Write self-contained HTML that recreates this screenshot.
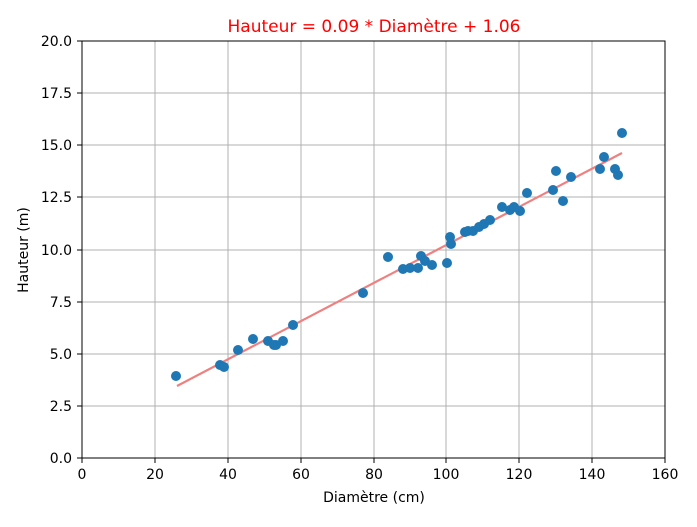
<!DOCTYPE html>
<html><head><style>body{margin:0;background:#fff}</style></head><body>
<svg width="697" height="522" xmlns="http://www.w3.org/2000/svg" font-family="DejaVu Sans, Liberation Sans, sans-serif">
<rect width="697" height="522" fill="#fff"/>
<g stroke="#b0b0b0" stroke-width="1">
<line x1="155" y1="41" x2="155" y2="458"/><line x1="228" y1="41" x2="228" y2="458"/><line x1="301" y1="41" x2="301" y2="458"/><line x1="374" y1="41" x2="374" y2="458"/><line x1="446" y1="41" x2="446" y2="458"/><line x1="519" y1="41" x2="519" y2="458"/><line x1="592" y1="41" x2="592" y2="458"/>
<line x1="82" y1="406" x2="665" y2="406"/><line x1="82" y1="354" x2="665" y2="354"/><line x1="82" y1="302" x2="665" y2="302"/><line x1="82" y1="250" x2="665" y2="250"/><line x1="82" y1="197" x2="665" y2="197"/><line x1="82" y1="145" x2="665" y2="145"/><line x1="82" y1="93" x2="665" y2="93"/>
</g>
<line x1="177" y1="386" x2="622" y2="153" stroke="#f08080" stroke-width="2.2"/>
<g fill="#1f77b4">
<circle cx="176" cy="376" r="5"/><circle cx="220" cy="365" r="5"/><circle cx="224" cy="367" r="5"/><circle cx="238" cy="350" r="5"/><circle cx="253" cy="339" r="5"/><circle cx="268" cy="341" r="5"/><circle cx="274" cy="345" r="5"/><circle cx="276" cy="345" r="5"/><circle cx="283" cy="341" r="5"/><circle cx="293" cy="325" r="5"/><circle cx="363" cy="293" r="5"/><circle cx="388" cy="257" r="5"/><circle cx="403" cy="269" r="5"/><circle cx="410" cy="268" r="5"/><circle cx="418" cy="268" r="5"/><circle cx="421" cy="256" r="5"/><circle cx="425" cy="261" r="5"/><circle cx="432" cy="265" r="5"/><circle cx="447" cy="263" r="5"/><circle cx="450" cy="237" r="5"/><circle cx="451" cy="244" r="5"/><circle cx="465" cy="232" r="5"/><circle cx="468" cy="231" r="5"/><circle cx="473" cy="231" r="5"/><circle cx="479" cy="227" r="5"/><circle cx="484" cy="224" r="5"/><circle cx="490" cy="220" r="5"/><circle cx="502" cy="207" r="5"/><circle cx="510" cy="210" r="5"/><circle cx="514" cy="207" r="5"/><circle cx="520" cy="211" r="5"/><circle cx="527" cy="193" r="5"/><circle cx="553" cy="190" r="5"/><circle cx="556" cy="171" r="5"/><circle cx="563" cy="201" r="5"/><circle cx="571" cy="177" r="5"/><circle cx="600" cy="169" r="5"/><circle cx="604" cy="157" r="5"/><circle cx="615" cy="169" r="5"/><circle cx="618" cy="175" r="5"/><circle cx="622" cy="133" r="5"/>
</g>
<rect x="82" y="41" width="583" height="417" fill="none" stroke="#000" stroke-width="1"/>
<g stroke="#000"><line x1="82" y1="458" x2="82" y2="463"/><line x1="155" y1="458" x2="155" y2="463"/><line x1="228" y1="458" x2="228" y2="463"/><line x1="301" y1="458" x2="301" y2="463"/><line x1="374" y1="458" x2="374" y2="463"/><line x1="446" y1="458" x2="446" y2="463"/><line x1="519" y1="458" x2="519" y2="463"/><line x1="592" y1="458" x2="592" y2="463"/><line x1="665" y1="458" x2="665" y2="463"/>
<line x1="77" y1="458" x2="82" y2="458"/><line x1="77" y1="406" x2="82" y2="406"/><line x1="77" y1="354" x2="82" y2="354"/><line x1="77" y1="302" x2="82" y2="302"/><line x1="77" y1="250" x2="82" y2="250"/><line x1="77" y1="197" x2="82" y2="197"/><line x1="77" y1="145" x2="82" y2="145"/><line x1="77" y1="93" x2="82" y2="93"/><line x1="77" y1="41" x2="82" y2="41"/></g>
<g font-size="14" text-anchor="middle" fill="#000"><text x="82" y="479">0</text><text x="155" y="479">20</text><text x="228" y="479">40</text><text x="301" y="479">60</text><text x="374" y="479">80</text><text x="446" y="479">100</text><text x="519" y="479">120</text><text x="592" y="479">140</text><text x="665" y="479">160</text></g>
<g font-size="14" text-anchor="end" fill="#000"><text x="72" y="463">0.0</text><text x="72" y="411">2.5</text><text x="72" y="359">5.0</text><text x="72" y="307">7.5</text><text x="72" y="255">10.0</text><text x="72" y="202">12.5</text><text x="72" y="150">15.0</text><text x="72" y="98">17.5</text><text x="72" y="46">20.0</text></g>
<text x="374" y="502" font-size="14" text-anchor="middle">Diamètre (cm)</text>
<text transform="translate(28,250) rotate(-90)" font-size="14" text-anchor="middle">Hauteur (m)</text>
<text x="374" y="32" font-size="17" text-anchor="middle" fill="#ff0000">Hauteur = 0.09 * Diamètre + 1.06</text>
</svg>
</body></html>
